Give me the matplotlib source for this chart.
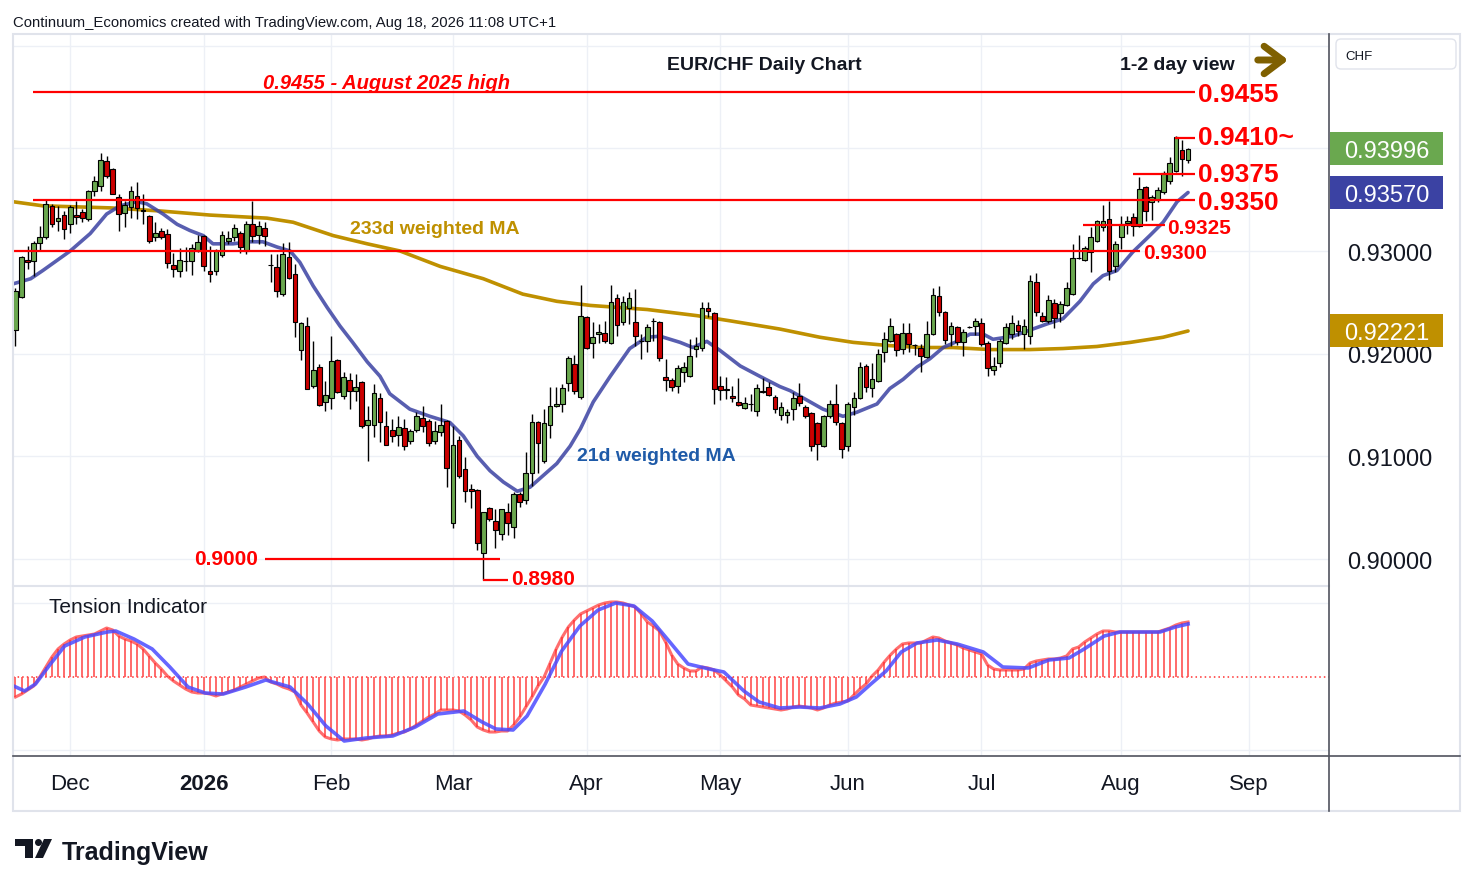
import numpy as np
import pandas as pd
import matplotlib
import matplotlib.pyplot as plt
from matplotlib import transforms
from matplotlib.patches import Rectangle, Polygon, Circle, FancyBboxPatch

matplotlib.use("Agg")
plt.rcParams["font.family"] = ["Liberation Sans", "DejaVu Sans"]

# --- data (EUR/CHF daily) ---
opens = [
    0.9223, 0.9255, 0.9291, 0.9290, 0.9308, 0.9314, 0.9344, 0.9329, 0.9335, 0.9326,
    0.9335, 0.9338, 0.9331, 0.9358, 0.9363, 0.9388, 0.9380, 0.9353, 0.9337, 0.9343,
    0.9354, 0.9340, 0.9334, 0.9314, 0.9319, 0.9317, 0.9286, 0.9281, 0.9290, 0.9290,
    0.9300, 0.9315, 0.9281, 0.9281, 0.9296, 0.9310, 0.9314, 0.9318, 0.9300, 0.9326,
    0.9316, 0.9322, 0.9286, 0.9284, 0.9258, 0.9294, 0.9278, 0.9204, 0.9227, 0.9169,
    0.9187, 0.9153, 0.9157, 0.9194, 0.9159, 0.9174, 0.9164, 0.9172, 0.9131, 0.9131,
    0.9157, 0.9130, 0.9126, 0.9121, 0.9128, 0.9115, 0.9126, 0.9137, 0.9134, 0.9115,
    0.9124, 0.9134, 0.9035, 0.9116, 0.9088, 0.9068, 0.9067, 0.9006, 0.9050, 0.9037,
    0.9024, 0.9046, 0.9031, 0.9063, 0.9057, 0.9084, 0.9133, 0.9095, 0.9131, 0.9149,
    0.9151, 0.9171, 0.9190, 0.9158, 0.9236, 0.9210, 0.9219, 0.9220, 0.9210, 0.9254,
    0.9231, 0.9244, 0.9231, 0.9212, 0.9212, 0.9232, 0.9231, 0.9177, 0.9174, 0.9169,
    0.9182, 0.9178, 0.9205, 0.9206, 0.9244, 0.9240, 0.9169, 0.9165, 0.9159, 0.9153,
    0.9147, 0.9151, 0.9144, 0.9163, 0.9168, 0.9158, 0.9140, 0.9140, 0.9146, 0.9159,
    0.9148, 0.9142, 0.9132, 0.9110, 0.9139, 0.9151, 0.9132, 0.9110, 0.9148, 0.9157,
    0.9188, 0.9167, 0.9173, 0.9202, 0.9212, 0.9219, 0.9205, 0.9220, 0.9208, 0.9206,
    0.9197, 0.9219, 0.9256, 0.9241, 0.9219, 0.9226, 0.9211, 0.9226, 0.9227, 0.9230,
    0.9210, 0.9184, 0.9191, 0.9210, 0.9219, 0.9228, 0.9219, 0.9217, 0.9270, 0.9237,
    0.9232, 0.9249, 0.9240, 0.9247, 0.9258, 0.9293, 0.9291, 0.9299, 0.9310, 0.9323,
    0.9331, 0.9285, 0.9314, 0.9327, 0.9333, 0.9324, 0.9362, 0.9348, 0.9350, 0.9357,
    0.9368, 0.9378, 0.9398, 0.9389,
]
highs = [
    0.9264, 0.9295, 0.9305, 0.9310, 0.9324, 0.9350, 0.9346, 0.9344, 0.9339, 0.9345,
    0.9349, 0.9341, 0.9359, 0.9373, 0.9395, 0.9393, 0.9381, 0.9356, 0.9349, 0.9363,
    0.9367, 0.9356, 0.9335, 0.9328, 0.9322, 0.9321, 0.9298, 0.9303, 0.9304, 0.9307,
    0.9316, 0.9316, 0.9305, 0.9302, 0.9319, 0.9319, 0.9326, 0.9319, 0.9329, 0.9349,
    0.9329, 0.9328, 0.9297, 0.9297, 0.9308, 0.9309, 0.9287, 0.9231, 0.9236, 0.9212,
    0.9190, 0.9173, 0.9217, 0.9195, 0.9182, 0.9181, 0.9180, 0.9173, 0.9149, 0.9170,
    0.9162, 0.9144, 0.9136, 0.9139, 0.9136, 0.9127, 0.9143, 0.9149, 0.9136, 0.9134,
    0.9151, 0.9135, 0.9130, 0.9120, 0.9099, 0.9073, 0.9068, 0.9046, 0.9051, 0.9049,
    0.9049, 0.9055, 0.9065, 0.9065, 0.9104, 0.9141, 0.9134, 0.9146, 0.9168, 0.9168,
    0.9170, 0.9198, 0.9199, 0.9267, 0.9237, 0.9231, 0.9229, 0.9232, 0.9267, 0.9258,
    0.9256, 0.9260, 0.9263, 0.9219, 0.9229, 0.9235, 0.9232, 0.9195, 0.9176, 0.9189,
    0.9192, 0.9214, 0.9216, 0.9250, 0.9250, 0.9241, 0.9178, 0.9177, 0.9169, 0.9176,
    0.9158, 0.9161, 0.9170, 0.9176, 0.9172, 0.9160, 0.9153, 0.9146, 0.9163, 0.9171,
    0.9150, 0.9143, 0.9133, 0.9140, 0.9155, 0.9170, 0.9133, 0.9153, 0.9163, 0.9192,
    0.9190, 0.9191, 0.9205, 0.9221, 0.9235, 0.9220, 0.9230, 0.9230, 0.9209, 0.9209,
    0.9232, 0.9264, 0.9266, 0.9242, 0.9231, 0.9227, 0.9224, 0.9227, 0.9235, 0.9235,
    0.9212, 0.9197, 0.9214, 0.9230, 0.9238, 0.9233, 0.9234, 0.9277, 0.9279, 0.9241,
    0.9257, 0.9253, 0.9251, 0.9270, 0.9307, 0.9316, 0.9305, 0.9323, 0.9330, 0.9345,
    0.9349, 0.9310, 0.9334, 0.9334, 0.9337, 0.9372, 0.9363, 0.9355, 0.9362, 0.9378,
    0.9392, 0.9412, 0.9408, 0.9400,
]
lows = [
    0.9207, 0.9254, 0.9282, 0.9276, 0.9301, 0.9312, 0.9323, 0.9319, 0.9312, 0.9318,
    0.9326, 0.9328, 0.9329, 0.9354, 0.9358, 0.9371, 0.9356, 0.9319, 0.9323, 0.9332,
    0.9331, 0.9326, 0.9308, 0.9310, 0.9312, 0.9283, 0.9275, 0.9275, 0.9281, 0.9277,
    0.9299, 0.9281, 0.9270, 0.9277, 0.9294, 0.9307, 0.9310, 0.9298, 0.9297, 0.9309,
    0.9307, 0.9305, 0.9270, 0.9255, 0.9256, 0.9273, 0.9216, 0.9194, 0.9166, 0.9167,
    0.9149, 0.9144, 0.9146, 0.9162, 0.9156, 0.9146, 0.9154, 0.9128, 0.9095, 0.9119,
    0.9114, 0.9111, 0.9114, 0.9110, 0.9106, 0.9112, 0.9124, 0.9124, 0.9110, 0.9112,
    0.9120, 0.9070, 0.9030, 0.9079, 0.9056, 0.9050, 0.9009, 0.8980, 0.9037, 0.9011,
    0.9019, 0.9023, 0.9020, 0.9051, 0.9054, 0.9071, 0.9084, 0.9094, 0.9118, 0.9148,
    0.9143, 0.9164, 0.9161, 0.9156, 0.9205, 0.9196, 0.9210, 0.9210, 0.9209, 0.9217,
    0.9228, 0.9229, 0.9207, 0.9195, 0.9202, 0.9212, 0.9193, 0.9164, 0.9164, 0.9162,
    0.9172, 0.9177, 0.9197, 0.9203, 0.9236, 0.9151, 0.9155, 0.9156, 0.9153, 0.9149,
    0.9146, 0.9144, 0.9139, 0.9162, 0.9159, 0.9142, 0.9135, 0.9132, 0.9135, 0.9149,
    0.9137, 0.9105, 0.9096, 0.9109, 0.9137, 0.9131, 0.9098, 0.9105, 0.9140, 0.9156,
    0.9163, 0.9158, 0.9172, 0.9192, 0.9211, 0.9198, 0.9200, 0.9202, 0.9199, 0.9182,
    0.9196, 0.9218, 0.9237, 0.9209, 0.9207, 0.9208, 0.9198, 0.9225, 0.9218, 0.9207,
    0.9178, 0.9179, 0.9187, 0.9209, 0.9214, 0.9217, 0.9205, 0.9209, 0.9237, 0.9231,
    0.9230, 0.9225, 0.9231, 0.9246, 0.9257, 0.9292, 0.9290, 0.9280, 0.9309, 0.9319,
    0.9272, 0.9280, 0.9302, 0.9317, 0.9315, 0.9323, 0.9329, 0.9330, 0.9348, 0.9356,
    0.9365, 0.9377, 0.9373, 0.9386,
]
closes = [
    0.9261, 0.9294, 0.9289, 0.9308, 0.9314, 0.9346, 0.9326, 0.9332, 0.9321, 0.9343,
    0.9333, 0.9332, 0.9358, 0.9368, 0.9389, 0.9373, 0.9356, 0.9336, 0.9345, 0.9358,
    0.9342, 0.9339, 0.9310, 0.9318, 0.9314, 0.9288, 0.9282, 0.9291, 0.9290, 0.9303,
    0.9309, 0.9285, 0.9278, 0.9300, 0.9316, 0.9313, 0.9322, 0.9304, 0.9326, 0.9315,
    0.9324, 0.9315, 0.9286, 0.9261, 0.9297, 0.9274, 0.9231, 0.9230, 0.9166, 0.9184,
    0.9150, 0.9160, 0.9193, 0.9163, 0.9177, 0.9164, 0.9168, 0.9130, 0.9135, 0.9162,
    0.9133, 0.9111, 0.9120, 0.9129, 0.9110, 0.9125, 0.9139, 0.9130, 0.9113, 0.9125,
    0.9131, 0.9089, 0.9111, 0.9081, 0.9066, 0.9066, 0.9016, 0.9046, 0.9039, 0.9028,
    0.9049, 0.9035, 0.9063, 0.9056, 0.9084, 0.9133, 0.9113, 0.9132, 0.9149, 0.9151,
    0.9167, 0.9196, 0.9164, 0.9237, 0.9206, 0.9216, 0.9221, 0.9212, 0.9250, 0.9228,
    0.9250, 0.9254, 0.9217, 0.9212, 0.9226, 0.9232, 0.9196, 0.9174, 0.9168, 0.9186,
    0.9187, 0.9198, 0.9207, 0.9244, 0.9242, 0.9166, 0.9165, 0.9165, 0.9157, 0.9150,
    0.9152, 0.9151, 0.9167, 0.9163, 0.9160, 0.9146, 0.9148, 0.9143, 0.9157, 0.9152,
    0.9139, 0.9110, 0.9112, 0.9139, 0.9151, 0.9133, 0.9107, 0.9151, 0.9157, 0.9187,
    0.9168, 0.9175, 0.9200, 0.9214, 0.9227, 0.9204, 0.9220, 0.9209, 0.9208, 0.9198,
    0.9219, 0.9257, 0.9241, 0.9213, 0.9227, 0.9211, 0.9221, 0.9226, 0.9232, 0.9209,
    0.9186, 0.9188, 0.9212, 0.9226, 0.9230, 0.9222, 0.9227, 0.9271, 0.9241, 0.9232,
    0.9252, 0.9235, 0.9248, 0.9264, 0.9293, 0.9293, 0.9303, 0.9314, 0.9329, 0.9329,
    0.9281, 0.9307, 0.9326, 0.9329, 0.9324, 0.9360, 0.9339, 0.9353, 0.9359, 0.9376,
    0.9386, 0.9411, 0.9390, 0.93996,
]

# weighted moving averages, read at points along the curves (bar index, price)
ma21_x = [-0.4, 2.5, 4.5, 9, 12.3, 15, 17.2, 20, 21.6, 24.3,
          26.6, 28.7, 30.9, 32.5, 35.8, 38.6, 40.7, 43, 45.2, 46.8,
          49, 51.3, 53.4, 55.5, 57.9, 60, 61.6, 64.9, 68.2, 71.5,
          73.7, 76, 78.1, 80.3, 82.6, 84.7, 86.8, 89.1, 91.3, 93,
          95.1, 97.9, 101.1, 103.9, 106.1, 109.4, 111.5, 113.8, 116, 119.3,
          122.5, 125.8, 127.5, 130.8, 132.9, 136.2, 138.5, 141.8, 143.9, 146.1,
          148.4, 150.5, 152.7, 155, 157.1, 159.3, 160.9, 164.2, 166.5, 169.8,
          172.4, 175.2, 177.4, 179, 181.3, 183.9, 186.7, 188.9, 191.2, 193]
ma21_y = [0.9268, 0.9273, 0.9281, 0.9300, 0.9317, 0.9336, 0.9344, 0.9348, 0.9346, 0.9336,
          0.9326, 0.9320, 0.9315, 0.9307, 0.9307, 0.9309, 0.9309, 0.9304, 0.9300, 0.9289,
          0.9266, 0.9245, 0.9227, 0.9211, 0.9192, 0.9178, 0.9161, 0.9146, 0.9139, 0.9133,
          0.9120, 0.9100, 0.9086, 0.9075, 0.9066, 0.9070, 0.9081, 0.9093, 0.9110, 0.9127,
          0.9153, 0.9178, 0.9205, 0.9216, 0.9217, 0.9211, 0.9206, 0.9212, 0.9203, 0.9188,
          0.9178, 0.9168, 0.9164, 0.9153, 0.9146, 0.9139, 0.9143, 0.9151, 0.9166, 0.9175,
          0.9187, 0.9195, 0.9206, 0.9212, 0.9219, 0.9219, 0.9214, 0.9217, 0.9222, 0.9229,
          0.9234, 0.9251, 0.9268, 0.9276, 0.9281, 0.9299, 0.9315, 0.9328, 0.9348, 0.93570]

ma233_x = [-0.4, 4.5, 15.6, 23.8, 32, 41.4, 45.7, 52.3, 57.9, 63.3,
           69.9, 77, 83.5, 89.1, 94.6, 104, 112.2, 117.6, 125.8, 132.4,
           137.9, 143.5, 148.9, 154.3, 160.4, 167, 172.4, 178, 183.5, 188.9, 193]
ma233_y = [0.9348, 0.9344, 0.9342, 0.9339, 0.9335, 0.9332, 0.9328, 0.9315, 0.9307, 0.9300,
           0.9285, 0.9273, 0.9258, 0.9251, 0.9247, 0.9243, 0.9237, 0.9232, 0.9224, 0.9216,
           0.9211, 0.9208, 0.9206, 0.9206, 0.9204, 0.9204, 0.9205, 0.9207, 0.9211, 0.9216, 0.92221]

# tension indicator, one value per bar, and its signal line read at points
tension = [
    -20, -17, -13, -9, 0, 10, 20, 28, 33, 37,
    40, 41, 42, 43, 46, 49, 47, 41, 38, 36,
    33, 28, 21, 14, 8, 1, -4, -8, -12, -15,
    -16, -16, -17, -19, -17, -15, -13, -10, -7, -4,
    -1, 0, -5, -7, -10, -12, -15, -28, -36, -45,
    -54, -60, -62, -63, -62, -62, -62, -63, -62, -60,
    -59, -59, -58, -56, -55, -52, -48, -44, -40, -37,
    -33, -33, -33, -34, -38, -43, -50, -53, -55, -55,
    -54, -54, -48, -40, -30, -20, -9, 0, 14, 28,
    40, 50, 57, 63, 66, 69, 72, 74, 75, 75,
    74, 72, 70, 63, 55, 51, 46, 35, 22, 13,
    9, 6, 6, 10, 9, 7, 2, -4, -10, -18,
    -22, -28, -29, -30, -31, -32, -33, -32, -30, -29,
    -30, -31, -33, -31, -28, -26, -25, -24, -18, -12,
    -7, 1, 7, 15, 22, 28, 33, 34, 34, 34,
    37, 40, 39, 36, 34, 32, 29, 27, 25, 23,
    12, 8, 7, 7, 7, 7, 8, 14, 16, 17,
    18, 18, 19, 21, 28, 30, 35, 39, 43, 46,
    46, 45, 45, 45, 45, 45, 45, 45, 45, 47,
    49, 52, 54, 55,
]
signal_x = [-0.3, 1.5, 3.3, 5.5, 8.1, 11.4, 15.1, 16.5, 19.5, 22.5,
            25.4, 28.4, 31.2, 34.2, 37.9, 41.2, 45.2, 48.1, 51.1, 54.1,
            57.7, 62.1, 65.8, 69.5, 73.8, 76.8, 79.1, 81.9, 84.2, 87.2,
            89.9, 92.9, 95.9, 98.8, 101.8, 104.8, 107.7, 110.7, 114.2, 116.6,
            119.9, 122.4, 125.8, 129.1, 132.4, 135.7, 138.4, 140.8, 143.3, 145.8,
            148.4, 151.7, 155.0, 159.3, 162.5, 166.7, 170.1, 173.4, 175.9, 179.2,
            181.8, 188.4, 190.9, 193.0]
signal_y = [-9, -14, -7, 11, 31, 40, 45, 46, 38, 28,
            10, -10, -16, -17, -10, -3, -10, -27, -49, -64,
            -61, -59, -50, -37, -34, -45, -52, -53, -39, -7,
            26, 51, 67, 74, 71, 56, 35, 13, 8, 5,
            -14, -25, -31, -30, -31, -27, -20, -7, 6, 25,
            34, 37, 33, 25, 10, 9, 17, 19, 28, 41,
            45, 45, 50, 53]

# support / resistance levels
levels = [0.9455, 0.9410, 0.9375, 0.9350, 0.9325, 0.9300, 0.9000, 0.8980]
level_labels = ["0.9455", "0.9410~", "0.9375", "0.9350", "0.9325", "0.9300", "0.9000", "0.8980"]

month_starts = ["2025-12-01", "2026-01-01", "2026-02-01", "2026-03-01", "2026-04-01",
                "2026-05-01", "2026-06-01", "2026-07-01", "2026-08-01", "2026-09-01"]
month_labels = ["Dec", "2026", "Feb", "Mar", "Apr", "May", "Jun", "Jul", "Aug", "Sep"]

# trading days (no bars on 25 Dec / 1 Jan)
holidays = pd.to_datetime(["2025-12-25", "2026-01-01"])
days = pd.bdate_range("2025-11-18", "2026-09-30")
days = days[~days.isin(holidays)]
dates = days[days <= "2026-08-18"]
x = np.arange(len(dates))
month_pos = [int(np.searchsorted(days, pd.Timestamp(m))) for m in month_starts]

GREEN = "#6aa84f"
RED = "#cc0000"
BLUE = "#3b42a3"
GOLD = "#bf9000"
LINE = "#ff0000"
GRID = "#edf0f6"
TXT = "#131722"

W, H = 1474, 887
fig = plt.figure(figsize=(W / 100, H / 100), dpi=100)
ax = fig.add_axes([13 / W, (H - 586) / H, 1316 / W, 551 / H])
axi = fig.add_axes([13 / W, (H - 757) / H, 1316 / W, 169 / H], sharex=ax)

# --- main price panel ---
o = np.array(opens)
c = np.array(closes)
hi = np.array(highs)
lo = np.array(lows)
up = c >= o
ax.vlines(x, lo, hi, color="black", lw=1, zorder=3)
body = np.maximum(np.abs(c - o), 0.00002)
ax.bar(x, body, bottom=np.minimum(o, c), width=0.78,
       color=np.where(up, GREEN, RED), edgecolor="black", linewidth=0.8, zorder=3)

ax.plot(ma233_x, ma233_y, color=GOLD, lw=2.6, zorder=2, solid_capstyle="round")
ax.plot(ma21_x, ma21_y, color=BLUE, lw=2.6, alpha=0.85, zorder=2, solid_capstyle="round")

# level lines with their labels
spans = [(2.9, 194.2), (190.9, 194.2), (184.0, 194.2), (2.9, 194.2),
         (175.7, 189.2), (-0.4, 185.1), (41.1, 79.8), (77.0, 81.1)]
for lev, (x0, x1) in zip(levels, spans):
    ax.hlines(lev, x0, x1, color=LINE, lw=1.6, zorder=4)

big = dict(color=LINE, fontsize=19, fontweight="bold", va="center_baseline", zorder=5)
small = dict(color=LINE, fontsize=15, fontweight="bold", va="center_baseline", zorder=5)
ax.text(194.6, levels[0], level_labels[0], ha="left", **big)
ax.text(194.6, 0.9413, level_labels[1], ha="left", **big)
ax.text(194.6, 0.93775, level_labels[2], ha="left", **big)
ax.text(194.6, levels[3], level_labels[3], ha="left", **big)
ax.text(189.5, levels[4], level_labels[4], ha="left", **small)
ax.text(185.6, 0.93005, level_labels[5], ha="left", **small)
ax.text(39.9, 0.9002, level_labels[6], ha="right", **small)
ax.text(81.6, 0.89834, level_labels[7], ha="left", **small)
ax.text(61.0, 0.94656, "0.9455 - August 2025 high", ha="center", va="center_baseline",
        color=LINE, fontsize=14.5, fontweight="bold", fontstyle="italic", zorder=5)
ax.text(55.1, 0.93243, "233d weighted MA", ha="left", va="center_baseline",
        color=GOLD, fontsize=14, fontweight="bold", zorder=5)
ax.text(92.4, 0.91023, "21d weighted MA", ha="left", va="center_baseline",
        color="#1e5aa8", fontsize=14, fontweight="bold", zorder=5)

ax.set_xlim(-0.41, 216.2)
ax.set_ylim(0.897469, 0.951136)
ax.set_yticks([0.90, 0.91, 0.92, 0.93, 0.94, 0.95])
ax.set_yticklabels(["0.90000", "0.91000", "0.92000", "0.93000", "", ""])
ax.yaxis.tick_right()
ax.tick_params(axis="y", length=0, pad=13, labelsize=17, labelcolor=TXT)
ax.tick_params(axis="x", length=0, labelbottom=False)
ax.set_xticks(month_pos)
ax.grid(True, color=GRID, lw=1)
for s in ax.spines.values():
    s.set_visible(False)

# last-value tags on the price scale
trans = transforms.blended_transform_factory(ax.transAxes, ax.transData)
tag_w = 113 / 1316
tag_h = 33 / 10267
for val, col in [(closes[-1], GREEN), (ma21_y[-1], BLUE), (ma233_y[-1], GOLD)]:
    ax.add_patch(Rectangle((1.0008, val - tag_h / 2), tag_w, tag_h, transform=trans,
                           facecolor=col, edgecolor="none", clip_on=False, zorder=6))
    ax.text(1.0008 + tag_w / 2, val, f"{val:.5f}", transform=trans, ha="center",
            va="center_baseline", color="white", fontsize=17, zorder=7, clip_on=False)

# --- tension indicator panel ---
axi.vlines(x, 0, tension, color="#ff4d4d", lw=1.3, alpha=0.9, zorder=2)
axi.plot(x, tension, color="#ff3030", lw=2.2, alpha=0.7, zorder=3)
axi.plot(signal_x, signal_y, color="#4b4bff", lw=2.6, alpha=0.85, zorder=4)
axi.axhline(0, color="#ff3030", lw=1.1, ls=(0, (1, 2)), zorder=1)
axi.set_ylim(-79, 90)
axi.set_yticks([-73, 74])
axi.tick_params(axis="y", length=0, labelright=False, labelleft=False)
axi.set_xticks(month_pos, month_labels)
axi.tick_params(axis="x", length=0, pad=12, labelsize=16, labelcolor=TXT)
for lbl in axi.get_xticklabels():
    if lbl.get_text() == "2026":
        lbl.set_fontweight("bold")
axi.grid(True, color=GRID, lw=1)
for s in axi.spines.values():
    s.set_visible(False)

# --- frame, header and decorations (pixel coordinates) ---
ov = fig.add_axes([0, 0, 1, 1], zorder=10)
ov.set_xlim(0, W)
ov.set_ylim(H, 0)
ov.axis("off")
ov.patch.set_alpha(0)
ov.add_patch(Rectangle((13, 35), 1447, 777, fill=False, ec="#e0e3eb", lw=1.5))
ov.plot([13, 1329], [587, 587], color="#e0e3eb", lw=1.5)
ov.plot([1329, 1329], [35, 812], color="#50535e", lw=1.2)
ov.plot([13, 1460], [757, 757], color="#50535e", lw=1.2)

ov.text(13, 21, "Continuum_Economics created with TradingView.com, Aug 18, 2026 11:08 UTC+1",
        fontsize=10.7, color=TXT, va="center_baseline", ha="left")
ov.text(764, 63, "EUR/CHF Daily Chart", fontsize=14, fontweight="bold", color=TXT,
        ha="center", va="center_baseline")
ov.text(1120, 64, "1-2 day view", fontsize=14, fontweight="bold", color=TXT,
        ha="left", va="center_baseline")
ov.annotate("", xy=(1291, 61), xytext=(1255, 61),
            arrowprops=dict(arrowstyle="->,head_length=0.6,head_width=0.45",
                            lw=5, color="#7f6000", mutation_scale=22,
                            capstyle="round", joinstyle="round"))
ov.text(49, 606, "Tension Indicator", fontsize=15, color=TXT, ha="left", va="center_baseline")

ov.add_patch(FancyBboxPatch((1336, 40), 120, 30, boxstyle="round,pad=0,rounding_size=5",
                            ec="#e0e3eb", fc="white", lw=1))
ov.text(1345, 56, "CHF", fontsize=9.5, color=TXT, ha="left", va="center_baseline")

# TradingView logo
ov.add_patch(Rectangle((15, 840), 18, 7, color=TXT, lw=0))
ov.add_patch(Rectangle((25, 840), 8, 19, color=TXT, lw=0))
ov.add_patch(Circle((38.5, 843.5), 3.5, color=TXT, lw=0))
ov.add_patch(Polygon([(44, 840), (52, 840), (43, 859), (35, 859)], closed=True, color=TXT, lw=0))
ov.text(62, 851, "TradingView", fontsize=18, fontweight="bold", color=TXT,
        ha="left", va="center_baseline")

fig.savefig("out.png", dpi=100)
plt.close(fig)
